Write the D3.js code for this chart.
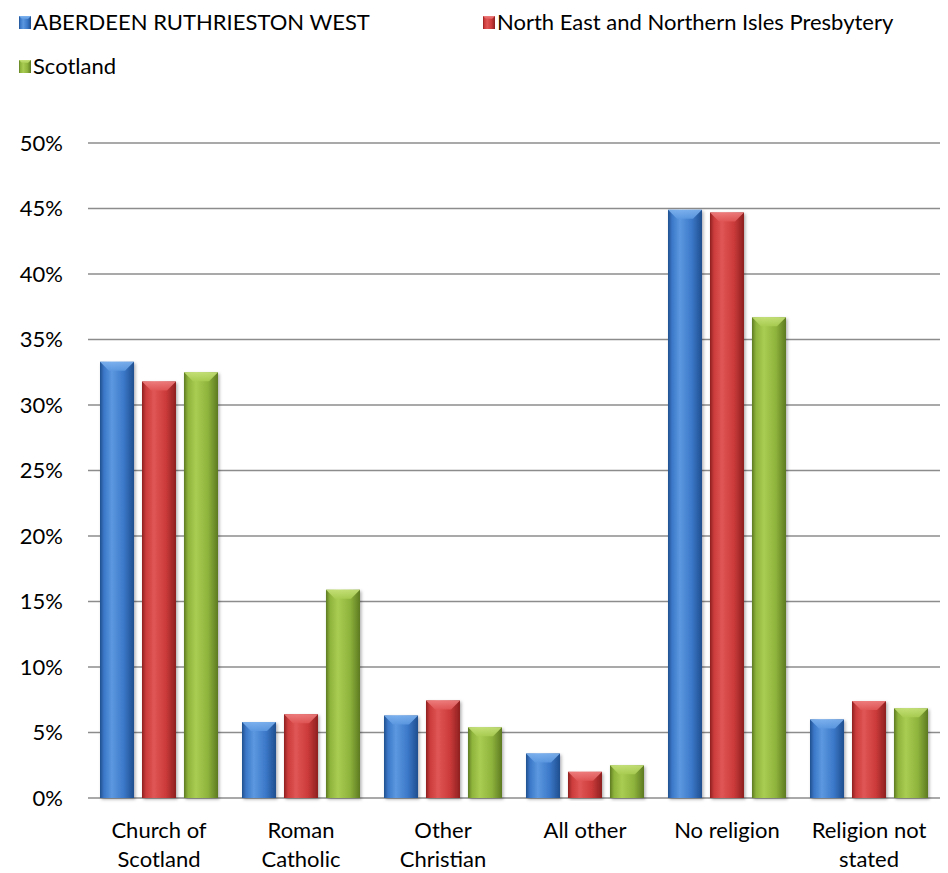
<!DOCTYPE html>
<html><head><meta charset="utf-8">
<script src="https://cdn.jsdelivr.net/npm/d3@7"></script>
<style>body{margin:0;background:#fff}svg{display:block}text{font-family:Lato,"Open Sans",sans-serif;fill:#000}</style>
</head><body><svg id="c" width="948" height="873"></svg>
<script>
const categories = [["Church of","Scotland"],["Roman","Catholic"],["Other","Christian"],["All other"],["No religion"],["Religion not","stated"]];
const seriesNames = ["ABERDEEN RUTHRIESTON WEST","North East and Northern Isles Presbytery","Scotland"];
const aberdeen = [33.3, 5.8, 6.3, 3.4, 44.9, 6.0];
const presbytery = [31.8, 6.4, 7.45, 2.0, 44.7, 7.4];
const scotland = [32.5, 15.9, 5.4, 2.5, 36.7, 6.85];
const yTicks = [0,5,10,15,20,25,30,35,40,45,50];
const colors = [
  {dark:"#1f4f8f", mid:"#3b78c8", light:"#5c98e0", top:"#7fb3ef"},
  {dark:"#8e2020", mid:"#cc3b3b", light:"#e05656", top:"#ef8080"},
  {dark:"#5d7a22", mid:"#8fb43c", light:"#a9cc52", top:"#c6e27a"}
];
const series = [aberdeen, presbytery, scotland];
const FS = 22;

const svg = d3.select("#c");
const y = d3.scaleLinear().domain([0,50]).range([798,143]);
const x0 = d3.scaleBand().domain(d3.range(categories.length)).range([88,940]).paddingInner(0).paddingOuter(0);
const x1 = d3.scaleBand().domain([0,1,2]).range([12, x0.bandwidth()-12]).paddingInner(0.19).paddingOuter(0);

const defs = svg.append("defs");
colors.forEach((c,i)=>{
  const g = defs.append("linearGradient").attr("id","g"+i).attr("x1","0").attr("x2","1").attr("y1","0").attr("y2","0");
  g.append("stop").attr("offset","0%").attr("stop-color",c.dark);
  g.append("stop").attr("offset","12%").attr("stop-color",c.mid);
  g.append("stop").attr("offset","35%").attr("stop-color",c.light);
  g.append("stop").attr("offset","70%").attr("stop-color",c.mid);
  g.append("stop").attr("offset","100%").attr("stop-color",c.dark);
  const t = defs.append("linearGradient").attr("id","t"+i).attr("x1","0").attr("x2","0").attr("y1","0").attr("y2","1");
  t.append("stop").attr("offset","0%").attr("stop-color",c.top);
  t.append("stop").attr("offset","100%").attr("stop-color",c.light);
});
const f = defs.append("filter").attr("id","sh").attr("x","-20%").attr("y","-5%").attr("width","140%").attr("height","115%");
f.append("feDropShadow").attr("dx",1.5).attr("dy",1.5).attr("stdDeviation",1.5).attr("flood-color","#000").attr("flood-opacity",0.3);

// gridlines
svg.append("g").selectAll("line").data(yTicks).join("line")
  .attr("x1",88).attr("x2",940).attr("y1",d=>y(d)).attr("y2",d=>y(d))
  .attr("stroke","#8c8c8c").attr("stroke-width",1.5);

// y labels
svg.append("g").selectAll("text").data(yTicks).join("text")
  .attr("x",63).attr("y",d=>y(d)).attr("dy","0.35em").attr("text-anchor","end")
  .attr("font-size",FS).text(d=>d+"%");

// bars
const bars = svg.append("g");
series.forEach((vals,si)=>{
  const g = bars.append("g");
  vals.forEach((v,ci)=>{
    const bx = x0(ci)+x1(si), bw = x1.bandwidth(), top = y(v), base = y(0);
    g.append("rect").attr("x",bx).attr("y",top).attr("width",bw).attr("height",base-top)
      .attr("fill","url(#g"+si+")").attr("filter","url(#sh)");
    const bev = Math.min(9, (base-top)/2);
    g.append("path").attr("d",`M${bx},${top}L${bx+bw},${top}L${bx+bw-bev},${top+bev}L${bx+bev},${top+bev}Z`)
      .attr("fill","url(#t"+si+")").attr("opacity",0.9);
  });
});

// category labels
svg.append("g").selectAll("text").data(categories).join("text")
  .attr("x",(d,i)=>x0(i)+x0.bandwidth()/2).attr("y",838).attr("text-anchor","middle").attr("font-size",FS)
  .each(function(d){
    const t = d3.select(this);
    d.forEach((line,li)=>t.append("tspan").attr("x",t.attr("x")).attr("dy",li===0?0:29).text(line));
  });

// legend
const legPos = [[19,22],[483,22],[19,66]];
seriesNames.forEach((n,i)=>{
  const g = svg.append("g").attr("transform",`translate(${legPos[i][0]},${legPos[i][1]})`);
  g.append("rect").attr("x",0).attr("y",-6).attr("width",12).attr("height",13).attr("fill","url(#g"+i+")");
  g.append("path").attr("d","M0,-6L12,-6L9,-3L3,-3Z").attr("fill","url(#t"+i+")");
  g.append("text").attr("x",14).attr("y",0).attr("dy","0.35em").attr("font-size",FS).text(n);
});
</script></body></html>
